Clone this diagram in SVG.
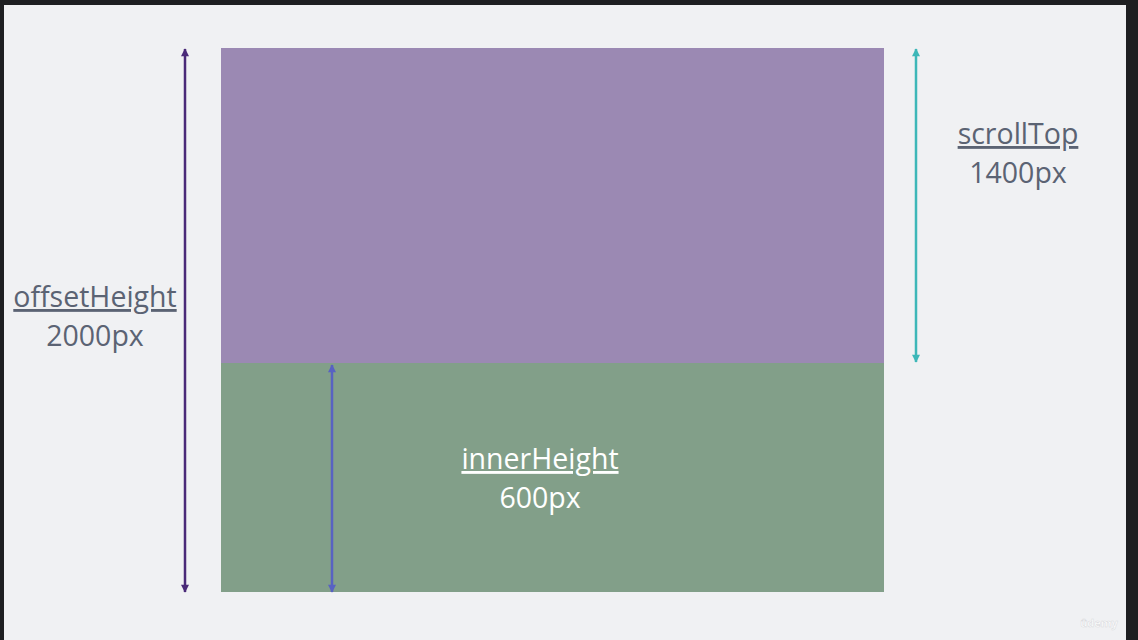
<svg xmlns="http://www.w3.org/2000/svg" width="1138" height="640" viewBox="0 0 1138 640">
  <defs>
    <style>
      .lbl { font-family: "Open Sans", "Noto Sans", sans-serif; font-size: 28.5px; text-anchor: middle; fill: #5b6373; }
      .lbl-w { fill: #ffffff; }
      .u { text-decoration: underline; }
    </style>
    <marker id="ah-purple" viewBox="0 0 10 10" refX="9" refY="5" markerWidth="9" markerHeight="8" orient="auto-start-reverse" markerUnits="userSpaceOnUse">
      <path d="M0,0 L10,5 L0,10 z" fill="#4a2a78"/>
    </marker>
    <marker id="ah-blue" viewBox="0 0 10 10" refX="9" refY="5" markerWidth="9" markerHeight="8" orient="auto-start-reverse" markerUnits="userSpaceOnUse">
      <path d="M0,0 L10,5 L0,10 z" fill="#5862c2"/>
    </marker>
    <marker id="ah-teal" viewBox="0 0 10 10" refX="9" refY="5" markerWidth="9" markerHeight="8" orient="auto-start-reverse" markerUnits="userSpaceOnUse">
      <path d="M0,0 L10,5 L0,10 z" fill="#3db7b8"/>
    </marker>
  </defs>
  <rect x="0" y="0" width="1138" height="640" fill="#1e1f21"/>
  <rect x="4" y="5" width="1122" height="635" fill="#f0f1f3"/>

  <g id="document">
    <rect x="221" y="48" width="663" height="315" fill="#9b89b3"/>
  </g>
  <g id="viewport">
    <rect x="221" y="363" width="663" height="229" fill="#829f89"/>
  </g>

  <g id="connectors">
    <line x1="185" y1="49" x2="185" y2="592" stroke="#4a2a78" stroke-width="2.5" marker-start="url(#ah-purple)" marker-end="url(#ah-purple)"/>
    <line x1="332" y1="365" x2="332" y2="592" stroke="#5862c2" stroke-width="2.5" marker-start="url(#ah-blue)" marker-end="url(#ah-blue)"/>
    <line x1="916" y1="49" x2="916" y2="362" stroke="#3db7b8" stroke-width="2.5" marker-start="url(#ah-teal)" marker-end="url(#ah-teal)"/>
  </g>

  <g id="label-offset">
    <text class="lbl u" x="95" y="307">offsetHeight</text>
    <text class="lbl" x="95" y="346">2000px</text>
  </g>
  <g id="label-scroll">
    <text class="lbl u" x="1018" y="144">scrollTop</text>
    <text class="lbl" x="1018" y="183">1400px</text>
  </g>
  <g id="label-inner">
    <text class="lbl lbl-w u" x="540" y="469">innerHeight</text>
    <text class="lbl lbl-w" x="540" y="508">600px</text>
  </g>
  <text x="1099" y="627" font-family="Open Sans, sans-serif" font-size="11" font-weight="bold" fill="#ffffff" stroke="#d8d9dc" stroke-width="0.5" text-anchor="middle">ûdemy</text>
</svg>
